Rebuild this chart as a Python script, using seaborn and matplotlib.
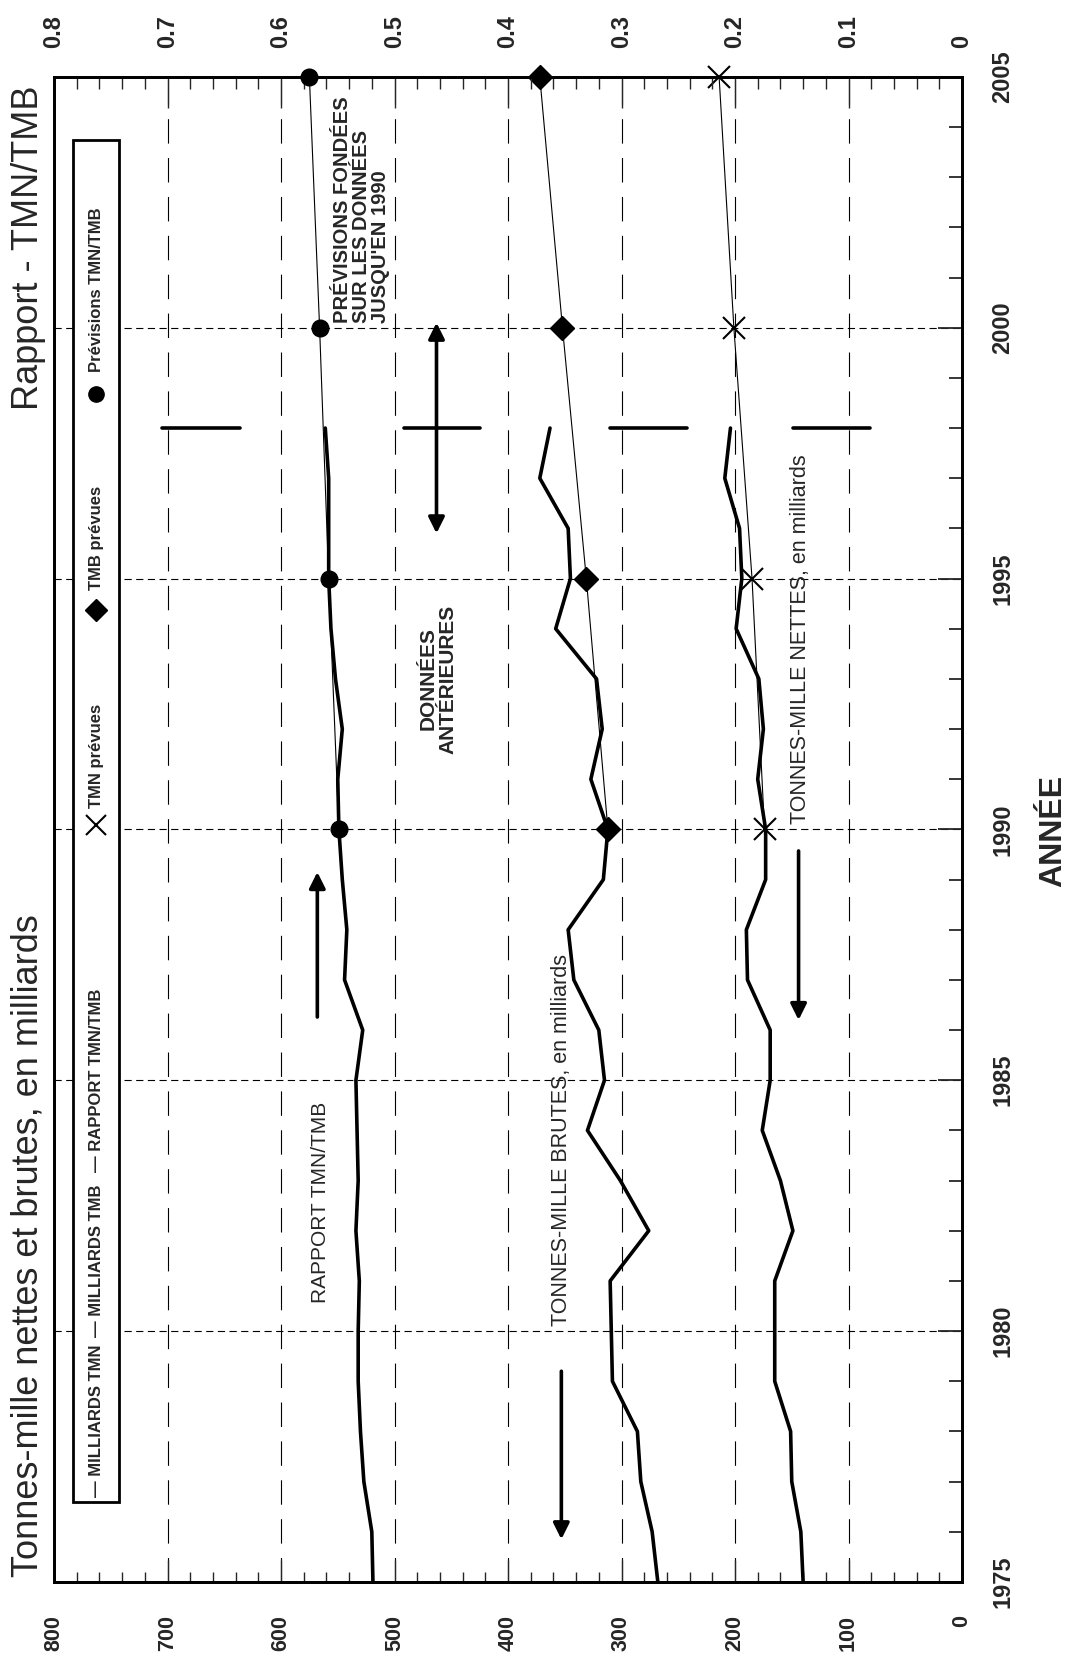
import matplotlib
matplotlib.use('Agg')
import matplotlib.pyplot as plt
import seaborn as sns
from matplotlib.ticker import MultipleLocator
from matplotlib.patches import Rectangle

# données historiques (milliards de tonnes-mille) et rapport TMN/TMB
annees = list(range(1975, 1999))
milliards_tmn = [140, 142, 150, 151, 165, 165, 165, 149, 160, 176, 169, 169,
                 189, 190, 173, 173, 180, 175, 179, 199, 194, 196, 209, 204]
milliards_tmb = [268, 273, 283, 286, 308, 309, 310, 276, 301, 330, 315, 320,
                 342, 347, 316, 312, 327, 317, 322, 358, 345, 347, 372, 363]
rapport = [0.519, 0.520, 0.527, 0.530, 0.532, 0.532, 0.531, 0.534, 0.532, 0.533,
           0.534, 0.528, 0.544, 0.542, 0.546, 0.549, 0.550, 0.546, 0.552, 0.556,
           0.558, 0.558, 0.558, 0.561]

# prévisions fondées sur les données jusqu'en 1990
annees_prev = [1990, 1995, 2000, 2005]
tmn_prev = [174, 185, 201, 214]
tmb_prev = [312, 331, 352, 372]
rapport_prev = [0.549, 0.558, 0.566, 0.575]

ticks_tonnes = list(range(0, 801, 100))
ticks_rapport = [0, 0.1, 0.2, 0.3, 0.4, 0.5, 0.6, 0.7, 0.8]
ticks_annees = list(range(1975, 2006, 5))

sns.set_style('white')
plt.rcParams['font.family'] = ['Liberation Sans', 'DejaVu Sans']

fig = plt.figure(figsize=(10.78, 16.71), dpi=100)
ax = fig.add_axes([0.0501, 0.0533, 0.8423, 0.9007])

sns.lineplot(x=milliards_tmn, y=annees, orient='y', color='black', lw=2.6, ax=ax)
sns.lineplot(x=milliards_tmb, y=annees, orient='y', color='black', lw=2.6, ax=ax)
sns.lineplot(x=tmn_prev, y=annees_prev, orient='y', color='black', lw=0.8,
             marker='x', markersize=16, markeredgewidth=1.5,
             markeredgecolor='black', clip_on=False, zorder=5, ax=ax)
sns.lineplot(x=tmb_prev, y=annees_prev, orient='y', color='black', lw=0.8,
             marker='D', markersize=12, markeredgewidth=1,
             markeredgecolor='black', clip_on=False, zorder=5, ax=ax)
ax.set_xlim(800, 0)
ax.set_ylim(1975, 2005)
ax.set_xlabel('')
ax.set_ylabel('')

# axe du rapport (en haut)
ax2 = ax.twiny()
sns.lineplot(x=rapport, y=annees, orient='y', color='black', lw=2.6, ax=ax2)
sns.lineplot(x=rapport_prev, y=annees_prev, orient='y', color='black', lw=0.8,
             marker='o', markersize=12, markeredgewidth=1,
             markeredgecolor='black', clip_on=False, zorder=5, ax=ax2)
ax2.set_xlim(0.8, 0)
ax2.set_ylim(1975, 2005)
ax2.set_xlabel('')
ax2.set_ylabel('')

# grille
ax.set_xticks(ticks_tonnes, labels=[str(t) for t in ticks_tonnes])
ax.xaxis.set_minor_locator(MultipleLocator(20))
ax.set_yticks(ticks_annees, labels=[str(t) for t in ticks_annees])
ax.yaxis.set_minor_locator(MultipleLocator(1))
ax.xaxis.grid(True, which='major', color='black', lw=0.8, ls=(0, (22, 13)))
ax.yaxis.grid(True, which='major', color='black', lw=0.8, ls=(0, (6.5, 4)))

ax.yaxis.tick_right()
ax.tick_params(axis='x', which='major', direction='in', length=16, width=1,
               bottom=True, top=False, labelsize=15.5, pad=24, labelrotation=90)
ax.tick_params(axis='x', which='minor', direction='in', length=7, width=1,
               bottom=True, top=False)
ax.tick_params(axis='y', which='major', direction='in', length=17, width=1.3,
               left=False, right=True, labelsize=17, pad=21, labelrotation=90)
ax.tick_params(axis='y', which='minor', direction='in', length=9.5, width=1.3,
               left=False, right=True)
for lbl in ax.get_xticklabels() + ax.get_yticklabels():
    lbl.set_fontweight('bold')
for lbl in ax.get_yticklabels():
    lbl.set_verticalalignment('center')

ax2.set_xticks(ticks_rapport, labels=[f'{t:g}' if t else '0' for t in ticks_rapport])
ax2.xaxis.set_minor_locator(MultipleLocator(0.02))
ax2.tick_params(axis='x', which='major', direction='in', length=22, width=1,
                top=True, bottom=False, labelsize=17, pad=21, labelrotation=90)
ax2.tick_params(axis='x', which='minor', direction='in', length=8.5, width=1,
                top=True, bottom=False)
for lbl in ax2.get_xticklabels():
    lbl.set_fontweight('bold')
ax2.grid(False)

for a in (ax, ax2):
    for s in a.spines.values():
        s.set_linewidth(2)
        s.set_color('black')

# barres de séparation en 1998
for x0, x1 in [(636, 705), (425, 492), (242, 310), (81, 149)]:
    ax.plot([x0, x1], [1998, 1998], color='black', lw=2.6, solid_capstyle='round')

# flèches
fleche = dict(arrowstyle='-|>', color='black', lw=2.6, mutation_scale=24,
              shrinkA=0, shrinkB=0)
ax.annotate('', xy=(568, 1989.15), xytext=(568, 1986.26), arrowprops=fleche)
ax.annotate('', xy=(144, 1986.2), xytext=(144, 1989.57), arrowprops=fleche)
ax.annotate('', xy=(353, 1975.85), xytext=(353, 1979.2), arrowprops=fleche)
ax.annotate('', xy=(463, 2000.1), xytext=(463, 1995.9),
            arrowprops=dict(fleche, arrowstyle='<|-|>'))

# textes dans le graphique
ax.text(565, 1980.55, 'RAPPORT TMN/TMB', rotation=90, ha='center', va='bottom',
        fontsize=15)
ax.text(353, 1980.1, 'TONNES-MILLE BRUTES, en milliards', rotation=90,
        ha='center', va='bottom', fontsize=15.5)
ax.text(142, 1990.1, 'TONNES-MILLE NETTES, en milliards', rotation=90,
        ha='center', va='bottom', fontsize=15.5)
ax.text(462, 1993, 'DONNÉES\nANTÉRIEURES', rotation=90, ha='center', va='center',
        multialignment='center', fontsize=15, fontweight='bold', linespacing=1.05)
ax.text(529, 2000.1, "PRÉVISIONS FONDÉES\nSUR LES DONNÉES\nJUSQU'EN 1990",
        rotation=90, ha='center', va='bottom', multialignment='left',
        fontsize=14.5, fontweight='bold', linespacing=1.0)

# légende (tournée)
ax.add_patch(Rectangle((0.0213, 0.053), 0.0507, 0.905, transform=ax.transAxes,
                       facecolor='white', edgecolor='black', lw=2, zorder=6))
xl = 0.0466
entrees = [(0.0567, '— MILLIARDS TMN'), (0.163, '— MILLIARDS TMB'),
           (0.2726, '— RAPPORT TMN/TMB'), (0.514, 'TMN prévues'),
           (0.659, 'TMB prévues'), (0.804, 'Prévisions TMN/TMB')]
for yl, s in entrees:
    ax.text(xl, yl, s, rotation=90, ha='center', va='bottom', fontsize=12,
            fontweight='bold', transform=ax.transAxes, zorder=7)
ax.plot(xl, 0.5027, marker='x', ms=15, mew=1.5, color='black',
        transform=ax.transAxes, zorder=7, clip_on=False)
ax.plot(xl, 0.6456, marker='D', ms=11, color='black',
        transform=ax.transAxes, zorder=7, clip_on=False)
ax.plot(xl, 0.789, marker='o', ms=11, color='black',
        transform=ax.transAxes, zorder=7, clip_on=False)

# titres
fig.text(0.026, 0.0563, 'Tonnes-mille nettes et brutes, en milliards',
         rotation=90, ha='center', va='bottom', fontsize=26)
fig.text(0.026, 0.949, 'Rapport - TMN/TMB', rotation=90, ha='center', va='top',
         fontsize=26)
fig.text(0.977, 0.5027, 'ANNÉE', rotation=90, ha='center', va='center',
         fontsize=23, fontweight='bold')

fig.savefig('out.png', dpi=100)
